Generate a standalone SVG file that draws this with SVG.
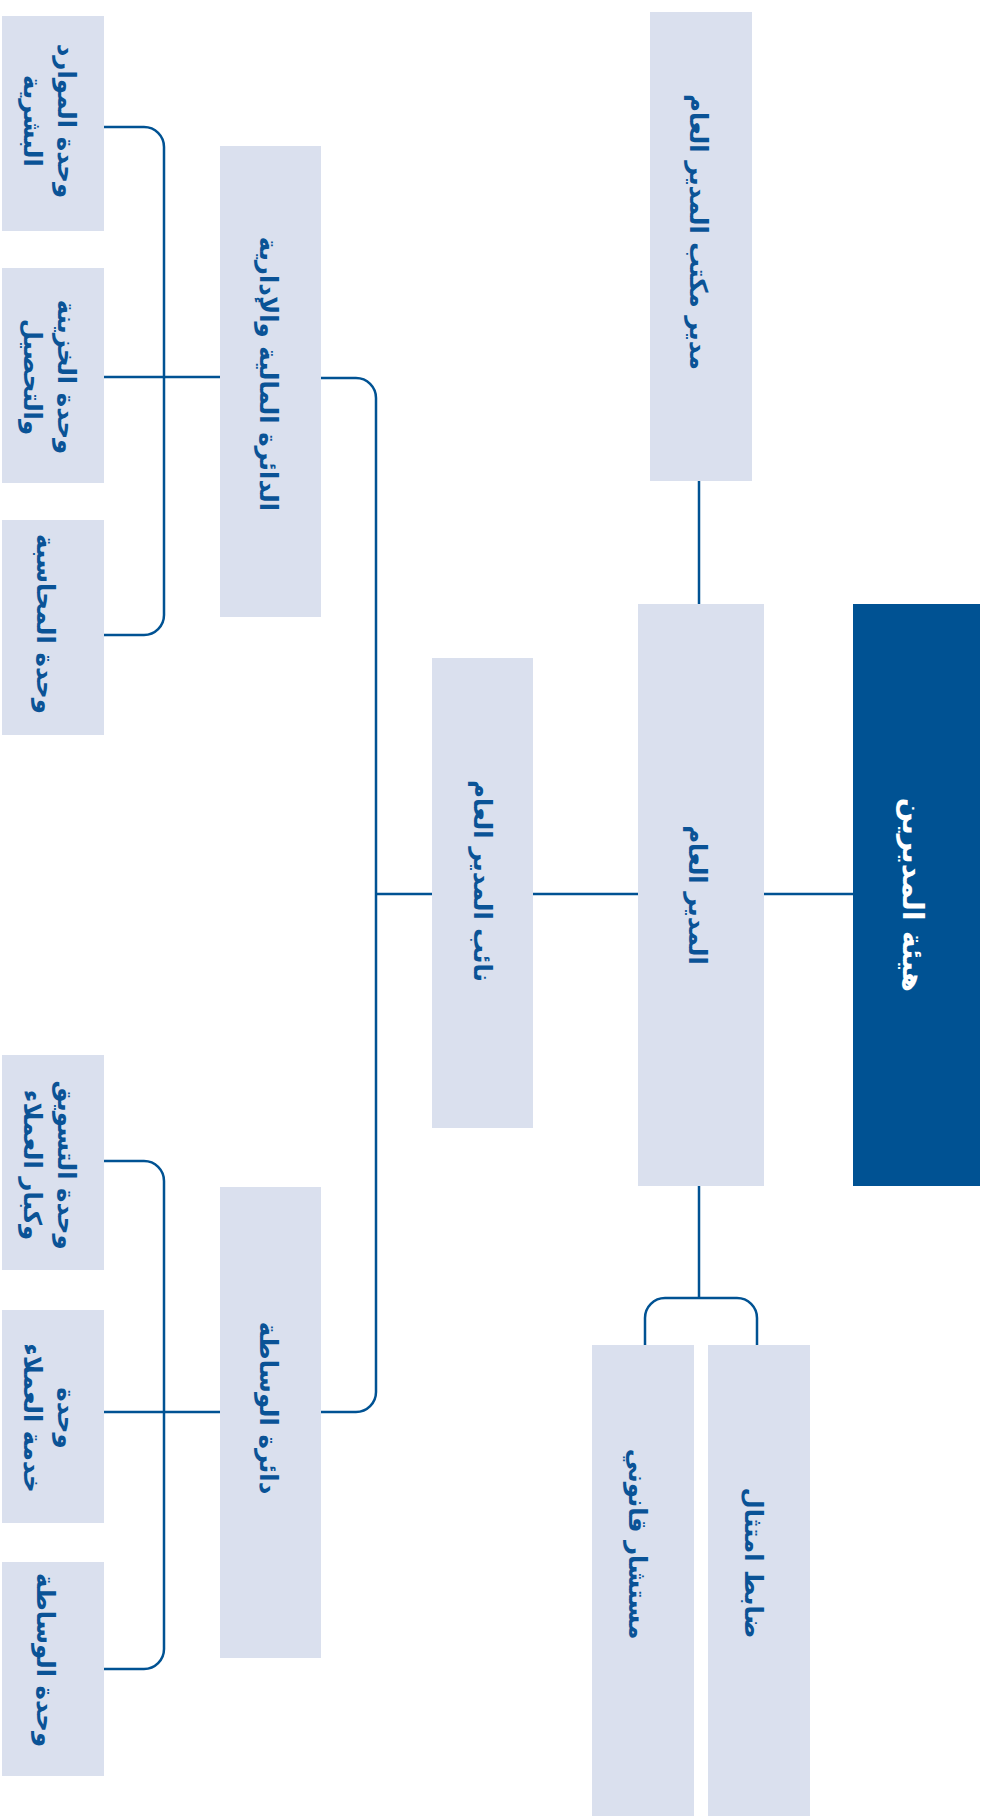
<svg xmlns="http://www.w3.org/2000/svg" width="982" height="1816" viewBox="0 0 982 1816">
<style>
.box{fill:#DAE0EE}
.dark{fill:#005293}
.t{font-family:"DejaVu Sans",sans-serif;font-weight:bold;font-size:24.5px;fill:#0A5396;text-anchor:middle;dominant-baseline:central}
.tw{fill:#FFFFFF;font-size:29px}
.c{fill:none;stroke:#005293;stroke-width:2.5}
</style>
<rect width="982" height="1816" fill="#FFFFFF"/>
<g id="connectors">
<path class="c" d="M764,894 H853"/>
<path class="c" d="M533,894 H638"/>
<path class="c" d="M699,481 V604"/>
<path class="c" d="M699,1186 V1298"/>
<path class="c" d="M645,1345 V1318 A20,20 0 0 1 665,1298 H737 A20,20 0 0 1 757,1318 V1345"/>
<path class="c" d="M376,894 H432"/>
<path class="c" d="M321,378 H356 A20,20 0 0 1 376,398 V1392 A20,20 0 0 1 356,1412 H321"/>
<path class="c" d="M104,127 H144 A20,20 0 0 1 164,147 V615 A20,20 0 0 1 144,635 H104"/>
<path class="c" d="M104,377 H220"/>
<path class="c" d="M104,1161 H144 A20,20 0 0 1 164,1181 V1649 A20,20 0 0 1 144,1669 H104"/>
<path class="c" d="M104,1412 H220"/>
</g>
<g id="board">
<rect class="dark" x="853" y="604" width="127" height="582"/>
<text class="t tw" transform="translate(913,895) rotate(90)">هيئة المديرين</text>
</g>
<g id="general-manager">
<rect class="box" x="638" y="604" width="126" height="582"/>
<text class="t" transform="translate(697,895) rotate(90)">المدير العام</text>
</g>
<g id="office-manager">
<rect class="box" x="650" y="12" width="102" height="469"/>
<text class="t" transform="translate(698,232) rotate(90)">مدير مكتب المدير العام</text>
</g>
<g id="compliance">
<rect class="box" x="708" y="1345" width="102" height="471"/>
<text class="t" transform="translate(753,1563) rotate(90)">ضابط امتثال</text>
</g>
<g id="legal">
<rect class="box" x="592" y="1345" width="102" height="471"/>
<text class="t" transform="translate(637,1544) rotate(90)">مستشار قانوني</text>
</g>
<g id="deputy">
<rect class="box" x="432" y="658" width="101" height="470"/>
<text class="t" transform="translate(482,881) rotate(90)">نائب المدير العام</text>
</g>
<g id="finance-dept">
<rect class="box" x="220" y="146" width="101" height="471"/>
<text class="t" transform="translate(268,374) rotate(90)">الدائرة المالية والإدارية</text>
</g>
<g id="brokerage-dept">
<rect class="box" x="220" y="1187" width="101" height="471"/>
<text class="t" transform="translate(268,1408) rotate(90)">دائرة الوساطة</text>
</g>
<g id="hr-unit">
<rect class="box" x="2" y="16" width="102" height="215"/>
<text class="t" transform="translate(50,121) rotate(90)"><tspan x="0" y="-17">وحدة الموارد</tspan><tspan x="0" y="17">البشرية</tspan></text>
</g>
<g id="treasury-unit">
<rect class="box" x="2" y="268" width="102" height="215"/>
<text class="t" transform="translate(50,377) rotate(90)"><tspan x="0" y="-17">وحدة الخزينة</tspan><tspan x="0" y="17">والتحصيل</tspan></text>
</g>
<g id="accounting-unit">
<rect class="box" x="2" y="520" width="102" height="215"/>
<text class="t" transform="translate(45,624) rotate(90)">وحدة المحاسبة</text>
</g>
<g id="marketing-unit">
<rect class="box" x="2" y="1055" width="102" height="215"/>
<text class="t" transform="translate(50,1165) rotate(90)"><tspan x="0" y="-17">وحدة التسويق</tspan><tspan x="0" y="17">وكبار العملاء</tspan></text>
</g>
<g id="customer-service-unit">
<rect class="box" x="2" y="1310" width="102" height="213"/>
<text class="t" transform="translate(50,1418) rotate(90)"><tspan x="0" y="-17">وحدة</tspan><tspan x="0" y="17">خدمة العملاء</tspan></text>
</g>
<g id="brokerage-unit">
<rect class="box" x="2" y="1562" width="102" height="214"/>
<text class="t" transform="translate(45,1660) rotate(90)">وحدة الوساطة</text>
</g>
</svg>
